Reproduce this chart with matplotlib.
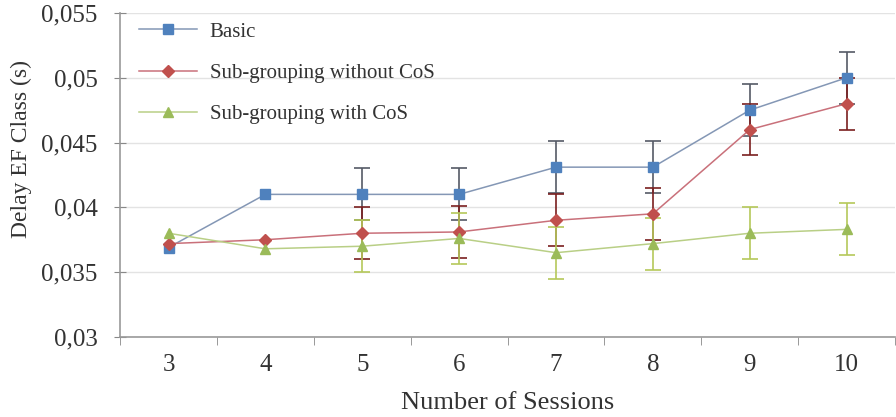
import numpy as np
import matplotlib
matplotlib.use('Agg')
import matplotlib.pyplot as plt
from matplotlib.ticker import FuncFormatter, FixedLocator

sessions = [3, 4, 5, 6, 7, 8, 9, 10]
basic = [0.0369, 0.041, 0.041, 0.041, 0.0431, 0.0431, 0.0475, 0.050]
basic_err = [np.nan, np.nan, 0.002, 0.002, 0.002, 0.002, 0.002, 0.002]
sub_no_cos = [0.0372, 0.0375, 0.038, 0.0381, 0.039, 0.0395, 0.046, 0.048]
sub_no_cos_err = [np.nan, np.nan, 0.002, 0.002, 0.002, 0.002, 0.002, 0.002]
sub_cos = [0.038, 0.0368, 0.037, 0.0376, 0.0365, 0.0372, 0.038, 0.0383]
sub_cos_err = [np.nan, np.nan, 0.002, 0.002, 0.002, 0.002, 0.002, 0.002]

plt.rcParams['font.family'] = ['Liberation Serif', 'DejaVu Serif']

fig = plt.figure(figsize=(8.96, 4.17), dpi=100)
ax = fig.add_axes([0.134, 0.192, 0.865, 0.777])

x = np.arange(len(sessions))

series = [
    (basic, basic_err, 'Basic', 's', '#4F81BD', '#8497b5', '#555a66'),
    (sub_no_cos, sub_no_cos_err, 'Sub-grouping without CoS', 'D', '#C0504D', '#c9707a', '#7a1f1f'),
    (sub_cos, sub_cos_err, 'Sub-grouping with CoS', '^', '#9BBB59', '#b9cf86', '#b5c85a'),
]
for vals, err, label, mk, mcol, lcol, ecol in series:
    ax.errorbar(x, vals, yerr=err, fmt='none', ecolor=ecol, elinewidth=1.2,
                capsize=6, capthick=1.2, zorder=2)
    ax.plot(x, vals, color=lcol, lw=1.1, marker=mk, markersize=7 if mk != 'D' else 6,
            markerfacecolor=mcol, markeredgecolor=mcol, label=label, zorder=3)

ax.set_xlim(-0.5, len(sessions) - 0.5)
ax.set_ylim(0.03, 0.055)
ax.set_yticks(np.arange(0.03, 0.0551, 0.005))
ax.yaxis.set_major_formatter(FuncFormatter(lambda v, p: ('%g' % round(v, 4)).replace('.', ',')))
ax.set_xticks(x)
ax.set_xticklabels([str(s) for s in sessions])
ax.xaxis.set_minor_locator(FixedLocator(np.arange(-0.5, len(sessions), 1.0)))
ax.tick_params(axis='x', which='major', length=0, pad=12, labelsize=18, labelcolor='#333333')
ax.tick_params(axis='x', which='minor', length=6, direction='out', color='#888888')
ax.tick_params(axis='y', length=8, direction='inout', color='#888888', labelsize=18,
               labelcolor='#333333', pad=12)

ax.grid(axis='y', color='#e3e3e3', lw=1)
ax.set_axisbelow(True)
for s in ['top', 'right']:
    ax.spines[s].set_visible(False)
for s in ['left', 'bottom']:
    ax.spines[s].set_color('#999999')
    ax.spines[s].set_linewidth(1.2)

ax.set_xlabel('Number of Sessions', fontsize=19, color='#333333', labelpad=12)
ax.set_ylabel('Delay EF Class (s)', fontsize=17, color='#333333')
ax.yaxis.set_label_coords(-0.114, 0.58)

leg = ax.legend(loc='upper left', frameon=False, fontsize=15, handlelength=2.8,
                handletextpad=0.6, labelspacing=1.05, bbox_to_anchor=(0.0, 1.03),
                borderaxespad=0.5)
for t in leg.get_texts():
    t.set_color('#333333')

fig.savefig('out.png', dpi=100)
